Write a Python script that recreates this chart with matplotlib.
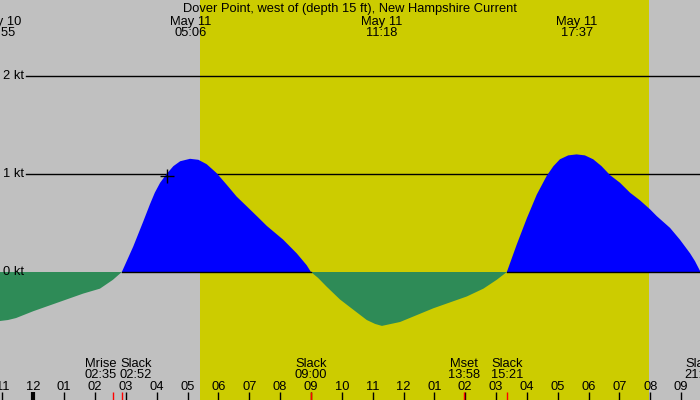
import numpy as np
import matplotlib
matplotlib.use('Agg')
import matplotlib.pyplot as plt

plt.rcParams['font.family'] = ['Liberation Sans', 'DejaVu Sans']
FS = 9.3

# hours after midnight May 11, current speed in knots (+ flood, - ebb)
times = [-1.08, -0.82, -0.56, 0.0, 0.54, 1.08, 1.62, 2.16, 2.58, 2.87,
         3.24, 3.57, 3.78, 3.94, 4.11, 4.32, 4.54, 4.76, 5.08, 5.35,
         5.62, 5.94, 6.27, 6.59, 6.92, 7.28, 7.57, 8.10, 8.54, 8.86, 9.00,
         9.23, 9.51, 9.94, 10.27, 10.81, 11.08, 11.30, 11.89, 12.43, 12.97,
         13.51, 14.05, 14.59, 15.02, 15.35,
         15.67, 16.00, 16.32, 16.64, 16.86, 17.07, 17.34, 17.61, 17.88, 18.15,
         18.42, 18.69, 19.02, 19.34, 19.67, 19.99, 20.21, 20.64, 20.96, 21.29,
         21.45, 21.63]
speeds = [-0.50, -0.49, -0.47, -0.40, -0.34, -0.28, -0.22, -0.17, -0.08, 0.0,
          0.26, 0.52, 0.69, 0.81, 0.91, 1.00, 1.08, 1.13, 1.155, 1.145,
          1.10, 1.01, 0.89, 0.77, 0.67, 0.56, 0.47, 0.33, 0.19, 0.07, 0.0,
          -0.06, -0.15, -0.28, -0.36, -0.49, -0.53, -0.55, -0.51, -0.44, -0.37,
          -0.31, -0.25, -0.17, -0.08, 0.0,
          0.28, 0.55, 0.79, 0.98, 1.08, 1.15, 1.19, 1.20, 1.19, 1.15,
          1.08, 0.99, 0.91, 0.81, 0.73, 0.64, 0.57, 0.45, 0.33, 0.19,
          0.11, 0.0]

# max current labels along the top
peak_times = [-1.083, 5.10, 11.30, 17.617]
peak_dates = ['May 10', 'May 11', 'May 11', 'May 11']
peak_clock = ['22:55', '05:06', '11:18', '17:37']

# slack and moon events along the bottom
event_times = [2.583, 2.867, 9.0, 13.967, 15.35, 21.633]
event_names = ['Mrise', 'Slack', 'Slack', 'Mset', 'Slack', 'Slack']
event_clock = ['02:35', '02:52', '09:00', '13:58', '15:21', '21:38']
event_nudge = [-12, 14, 0, 0, 0, 0]  # pixels, to keep labels apart

sunrise, sunset = 5.40, 19.96
now_time, now_speed = 4.32, 0.98
hours = list(range(-1, 22))
kt_levels = [0, 1, 2]

W, H = 700, 400
px_per_hour = 30.85
x0_hour = -33.3 / px_per_hour
px_per_kt = 98.0

fig = plt.figure(figsize=(7, 4), dpi=100)
ax = fig.add_axes([0, 0, 1, 1])
ax.set_xlim(x0_hour, x0_hour + W / px_per_hour)
ax.set_ylim(-(H - 272) / px_per_kt, 272 / px_per_kt)
ax.axis('off')

def yf(py):
    return 1 - py / H

fig.patch.set_facecolor('#c0c0c0')
ax.axvspan(sunrise, sunset, color='#cccc00', lw=0, zorder=0)

t = np.array(times)
v = np.array(speeds)

for k in kt_levels:
    if k != 0:
        ax.axhline(k, xmin=26 / W, color='k', lw=1, zorder=1)
    ax.text(24 / W, yf(272 - k * px_per_kt), '%d kt' % k, transform=ax.transAxes,
            ha='right', va='center', fontsize=FS, zorder=8)

ax.fill_between(t, v, 0, where=v >= 0, interpolate=True,
                facecolor='#0000ff', edgecolor='none', zorder=2)
ax.fill_between(t, v, 0, where=v <= 0, interpolate=True,
                facecolor='#2e8b57', edgecolor='none', zorder=2)
# zero line shows only under the flood part
ax.plot(t, np.where(v >= 0, 0.0, np.nan), color='k', lw=1, zorder=3)

ax.plot(now_time, now_speed, '+', color='k', ms=10, mew=1, zorder=6)

xt = ax.get_xaxis_transform()
ax.text(350 / W, yf(12), 'Dover Point, west of (depth 15 ft), New Hampshire Current',
        transform=ax.transAxes, ha='center', va='baseline', fontsize=FS)
for pt, d, c in zip(peak_times, peak_dates, peak_clock):
    ax.text(pt, yf(25), d, transform=xt, ha='center', va='baseline', fontsize=FS)
    ax.text(pt, yf(36), c, transform=xt, ha='center', va='baseline', fontsize=FS)

for et, n, c, dx in zip(event_times, event_names, event_clock, event_nudge):
    xe = et + dx / px_per_hour
    ax.text(xe, yf(366.7), n, transform=xt, ha='center', va='baseline', fontsize=FS)
    ax.text(xe, yf(378.3), c, transform=xt, ha='center', va='baseline', fontsize=FS)

for h in hours:
    lab = '%02d' % (12 if h % 12 == 0 else h % 12)
    ax.text(h, yf(390), lab, transform=xt, ha='center', va='baseline', fontsize=FS)
    ax.vlines(h, 0, yf(392), transform=xt, color='k', lw=3 if h == 0 else 1, zorder=5)

ax.vlines(event_times, 0, yf(392), transform=xt, color='r', lw=1, zorder=6)

fig.savefig('out.png', dpi=100, facecolor=fig.get_facecolor())
